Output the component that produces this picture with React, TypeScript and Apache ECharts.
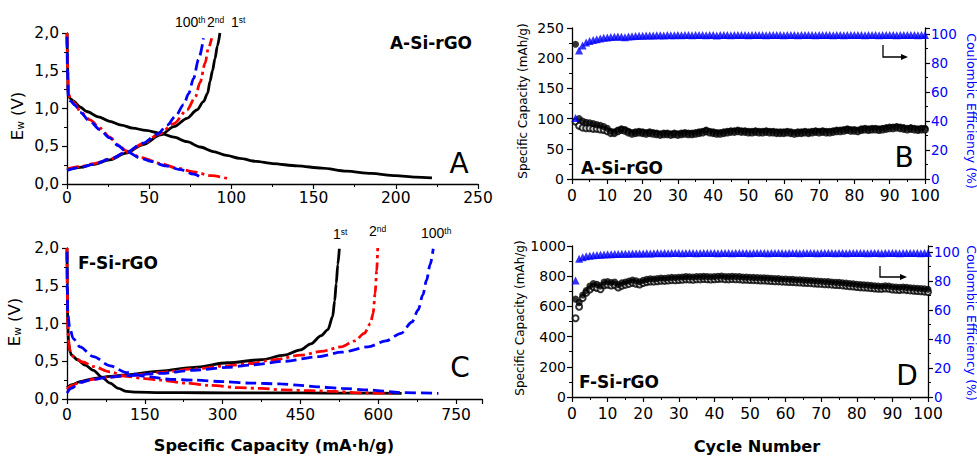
import React, { useEffect, useRef } from 'react';
import * as echarts from 'echarts';

// ---------- Panel A (A-Si-rGO), E vs capacity ----------
const a1Discharge = [[0,2.0],[0.3,1.6],[0.8,1.18],[2,1.13],[3.8,1.1],[8,1.02],[12,0.96],[19,0.89],[26,0.83],[33,0.78],[40,0.74],[48,0.71],[57,0.67],[65,0.62],[73,0.56],[81,0.49],[89,0.43],[97,0.38],[105,0.34],[115,0.3],[125,0.27],[140,0.24],[155,0.21],[170,0.17],[185,0.14],[200,0.11],[212,0.09],[222,0.08]];
const a1Charge = [[0,0.19],[8,0.22],[16,0.26],[26,0.32],[36,0.41],[46,0.52],[57,0.65],[65,0.76],[73,0.87],[79,0.98],[83,1.09],[85.5,1.2],[87,1.36],[88.5,1.5],[90,1.66],[91.5,1.83],[93,2.0]];
const a2Discharge = [[0,2.0],[0.3,1.6],[0.8,1.2],[2,1.14],[5,1.06],[8,0.96],[14,0.85],[20,0.74],[26,0.62],[31,0.52],[36,0.44],[45,0.35],[57,0.27],[67,0.21],[77,0.16],[88,0.11],[98,0.07]];
const a2Charge = [[0,0.2],[8,0.23],[16,0.27],[26,0.33],[36,0.42],[46,0.53],[56,0.66],[65,0.8],[73,0.98],[78,1.15],[81,1.35],[84,1.6],[86,1.8],[88,1.93]];
const a100Discharge = [[0,1.95],[0.3,1.5],[0.8,1.15],[2,1.1],[5,1.04],[8,0.95],[14,0.83],[20,0.72],[26,0.61],[31,0.51],[36,0.43],[45,0.34],[51,0.3],[60,0.24],[69,0.19],[77,0.13],[83,0.07]];
const a100Charge = [[0,0.18],[8,0.22],[16,0.26],[26,0.33],[36,0.42],[46,0.54],[55,0.66],[61,0.78],[66,0.9],[71,1.05],[74,1.2],[77,1.4],[80,1.65],[83,1.93]];

// ---------- Panel C (F-Si-rGO), E vs capacity ----------
const c1Discharge = [[0,2.0],[0.5,1.5],[1.5,1.0],[3,0.75],[6,0.62],[9,0.58],[20,0.52],[35,0.45],[51,0.38],[67,0.29],[83,0.21],[99,0.14],[115,0.1],[135,0.09],[180,0.085],[260,0.083],[350,0.08],[450,0.08],[550,0.078],[645,0.075]];
const c1Charge = [[0,0.15],[10,0.19],[25,0.23],[51,0.27],[83,0.3],[115,0.32],[180,0.37],[245,0.42],[310,0.48],[374,0.52],[419,0.58],[450,0.65],[470,0.73],[490,0.84],[503,0.92],[512,1.09],[516,1.3],[519,1.53],[522,1.78],[525,1.99]];
const c2Discharge = [[0,2.0],[0.5,1.4],[2,0.85],[5,0.65],[12,0.56],[30,0.49],[51,0.43],[83,0.36],[115,0.3],[150,0.27],[180,0.25],[230,0.21],[277,0.18],[330,0.15],[374,0.14],[419,0.12],[470,0.11],[515,0.1],[570,0.08],[625,0.075]];
const c2Charge = [[0,0.13],[10,0.18],[25,0.22],[51,0.26],[83,0.29],[115,0.31],[180,0.35],[245,0.4],[310,0.44],[354,0.47],[400,0.52],[451,0.58],[490,0.63],[528,0.69],[555,0.77],[573,0.87],[585,1.0],[590,1.13],[594,1.4],[597,1.7],[599,2.0]];
const c100Discharge = [[0,1.95],[0.5,1.5],[1.5,1.13],[5,0.95],[12,0.8],[25,0.69],[51,0.56],[83,0.44],[115,0.35],[150,0.3],[200,0.26],[245,0.25],[300,0.23],[354,0.21],[412,0.2],[450,0.18],[483,0.16],[530,0.14],[580,0.12],[644,0.085],[716,0.075]];
const c100Charge = [[0,0.08],[8,0.14],[25,0.22],[51,0.26],[83,0.29],[115,0.31],[180,0.34],[245,0.38],[310,0.42],[354,0.45],[420,0.5],[483,0.56],[530,0.62],[580,0.69],[615,0.77],[644,0.87],[665,1.02],[677,1.18],[686,1.38],[693,1.57],[700,1.78],[706,1.99]];

// ---------- Panel B (A-Si-rGO), cycling ----------
const bDischarge = [223,100,96,94,93,92,90,89,87,84,
  79,78,81,83,82,79,77,78,79,78,
  77,78,77,76,75,76,76,75,76,75,
  76,77,76,76,77,78,79,81,79,78,
  77,77,78,79,80,80,81,80,80,79,
  79,80,79,79,80,79,79,78,78,78,
  79,78,77,78,78,79,78,79,80,79,
  80,79,79,80,81,81,82,83,82,82,
  81,83,84,83,84,84,83,84,85,86,
  86,87,86,85,84,85,84,83,84,84];
const bCharge = [95,88,85,84,84,83,83,82,81,79,
  76,76,79,81,80,77,75,76,77,76,
  75,76,75,74,73,74,74,73,74,73,
  74,75,74,74,75,76,77,79,77,76,
  75,75,76,77,78,78,79,78,78,77,
  77,78,77,77,78,77,77,76,76,76,
  77,76,75,76,76,77,76,77,78,77,
  78,77,77,78,79,79,80,81,80,80,
  79,81,82,81,82,82,81,82,83,84,
  84,85,84,83,82,83,82,81,82,82];
const bEfficiency = [42,88.5,92,94,95,95.8,96.3,96.8,97.2,97.5,
  97.8,98.0,98.1,97.9,97.7,98.2,98.4,98.5,98.6,98.7,
  98.8,98.9,98.8,99.0,99.0,98.9,99.1,99.0,99.0,99.1,
  99.0,99.1,99.2,99.0,99.1,99.2,99.1,99.0,99.1,99.2,
  98.9,99.1,99.2,99.1,99.0,99.2,99.1,99.1,99.2,99.0,
  99.1,99.2,99.1,99.1,99.0,99.2,99.1,99.2,99.1,99.0,
  99.2,99.1,99.1,99.0,99.2,99.1,99.2,99.1,99.0,99.1,
  99.2,99.1,99.2,99.0,99.1,99.2,99.0,99.1,99.2,99.1,
  99.1,99.2,99.0,99.1,99.2,99.1,99.0,99.2,99.1,99.1,
  99.2,99.0,99.1,99.2,99.1,99.1,99.2,99.0,99.1,99.1];

// ---------- Panel D (F-Si-rGO), cycling ----------
const dDischarge = [648,625,676,705,735,752,746,736,762,764,
  758,761,744,756,762,768,775,769,763,773,
  779,783,782,785,788,787,790,792,791,793,
  795,797,796,795,798,797,799,798,796,798,
  800,801,798,797,799,798,797,795,794,793,
  792,791,790,789,788,786,785,784,782,781,
  780,779,777,776,774,773,772,770,768,767,
  765,764,762,760,759,757,754,752,750,747,
  744,743,742,739,737,735,734,737,735,730,
  728,727,729,726,724,722,720,718,716,713];
const dCharge = [522,598,655,690,712,728,722,714,740,743,
  738,741,725,737,743,749,756,750,745,755,
  761,765,764,767,770,769,772,774,773,775,
  777,779,778,777,780,779,781,780,778,780,
  782,783,780,779,781,780,779,777,776,775,
  774,773,772,771,770,768,767,766,764,763,
  762,761,759,758,756,755,754,752,750,749,
  747,746,744,742,741,739,736,734,732,729,
  726,725,724,721,719,717,716,719,717,712,
  710,709,711,708,706,704,702,700,698,695];
const dEfficiency = [80.3,95.3,96.3,96.9,97.3,97.6,97.8,98.0,98.1,98.3,
  98.4,98.5,98.5,98.6,98.7,98.7,98.8,98.8,98.9,98.9,
  99.0,98.9,99.0,99.1,99.0,99.1,99.0,99.1,99.2,99.1,
  99.0,99.1,99.2,99.1,99.0,99.1,99.2,99.1,99.1,99.2,
  99.0,99.1,99.2,99.1,99.0,99.2,99.1,99.1,99.2,99.0,
  99.1,99.2,99.1,99.1,99.0,99.2,99.1,99.2,99.1,99.0,
  99.2,99.1,99.1,99.0,99.2,99.1,99.2,99.1,99.0,99.1,
  99.2,99.1,99.2,99.0,99.1,99.2,99.0,99.1,99.2,99.1,
  99.1,99.2,99.0,99.1,99.2,99.1,99.0,99.2,99.1,99.1,
  99.2,99.0,99.1,99.2,99.1,99.1,99.2,99.0,99.1,99.1];

const FONT = 'DejaVu Sans';
const BLACK = '#000000';
const RED = '#ff0000';
const BLUE = '#0000ff';

function axisBase(fontSize: number, labelColor = BLACK, margin = 7, extra: any = {}) {
  return {
    axisLine: { show: true, onZero: false, lineStyle: { color: BLACK, width: 1.3 } },
    axisTick: { show: true, inside: false, length: 5, lineStyle: { color: BLACK, width: 1.2 } },
    minorTick: { show: true, splitNumber: 2, length: 3, lineStyle: { color: BLACK, width: 1 } },
    splitLine: { show: false },
    axisLabel: { color: labelColor, fontFamily: FONT, fontSize, margin, ...extra },
  };
}

const commaFmt = (v: number) => v.toFixed(1).replace('.', ',');
const plainFmt = (v: number) => String(Math.round(v));

function curve(data: number[][], color: string, type: any, xi: number, yi: number) {
  return {
    type: 'line', xAxisIndex: xi, yAxisIndex: yi, data, showSymbol: false, symbol: 'none',
    smooth: 0.3, smoothMonotone: 'x', silent: true,
    lineStyle: { color, width: 2.8, type, cap: 'butt' },
  };
}

const DASHDOT = [12, 4, 3, 4];
const DASH = [11, 5];

function cyc(values: number[]) {
  return values.map((v, i) => [i + 1, v]);
}

function ordinal(x: number, y: number, num: string, suf: string) {
  return {
    type: 'text', x, y,
    style: {
      text: `{n|${num}}{s|${suf}}`,
      rich: {
        n: { fontSize: 14, fontFamily: 'Liberation Sans', fill: BLACK },
        s: { fontSize: 8.5, fontFamily: 'Liberation Sans', fill: BLACK, verticalAlign: 'top' },
      },
      align: 'left', verticalAlign: 'middle',
    },
  };
}

function label(x: number, y: number, text: string, size: number, weight = 'normal', color = BLACK, rotation = 0) {
  return {
    type: 'text', x, y, rotation,
    style: { text, fontSize: size, fontWeight: weight, fontFamily: FONT, fill: color, align: 'center', verticalAlign: 'middle' },
  };
}

function ewLabel(x: number, y: number) {
  return {
    type: 'text', x, y, rotation: Math.PI / 2,
    style: {
      text: '{e|E}{w|w}{e| (V)}',
      rich: {
        e: { fontSize: 16.5, fontFamily: FONT, fill: BLACK },
        w: { fontSize: 10.5, fontFamily: FONT, fill: BLACK, verticalAlign: 'bottom' },
      },
      align: 'center', verticalAlign: 'middle',
    },
  };
}

function arrow(x: number, y0: number, y1: number, x1: number) {
  return [
    { type: 'polyline', shape: { points: [[x, y0], [x, y1], [x1 - 5, y1]] }, style: { stroke: BLACK, lineWidth: 1.3, fill: null } },
    { type: 'polygon', shape: { points: [[x1 - 7, y1 - 3], [x1, y1], [x1 - 7, y1 + 3]] }, style: { fill: BLACK } },
  ];
}

export default function App() {
  const ref = useRef<HTMLDivElement>(null);
  useEffect(() => {
    if (!ref.current) return;
    const chart = echarts.init(ref.current, null, { renderer: 'svg' });
    const option: any = {
      animation: false,
      backgroundColor: '#ffffff',
      grid: [
        { left: 67, top: 33, width: 411, height: 151 },   // A
        { left: 67, top: 248, width: 415, height: 151 },  // C
        { left: 572, top: 28, width: 353, height: 151 },  // B
        { left: 572, top: 246, width: 356, height: 151 }, // D
      ],
      xAxis: [
        { type: 'value', gridIndex: 0, min: 0, max: 250, interval: 50, ...axisBase(15.5, BLACK, 6) },
        { type: 'value', gridIndex: 1, min: 0, max: 800, interval: 150, ...axisBase(15.5, BLACK, 8, { showMaxLabel: false }) },
        { type: 'value', gridIndex: 2, min: 0, max: 100, interval: 10, ...axisBase(15.5, BLACK, 9) },
        { type: 'value', gridIndex: 3, min: 0, max: 100, interval: 10, ...axisBase(15.5, BLACK, 9) },
      ],
      yAxis: [
        { type: 'value', gridIndex: 0, min: 0, max: 2, interval: 0.5, ...axisBase(15.5, BLACK, 8, { formatter: commaFmt }) },
        { type: 'value', gridIndex: 1, min: 0, max: 2, interval: 0.5, ...axisBase(15.5, BLACK, 8, { formatter: commaFmt }) },
        { type: 'value', gridIndex: 2, position: 'left', min: 0, max: 250, interval: 50, ...axisBase(14, BLACK, 8) },
        { type: 'value', gridIndex: 2, position: 'right', min: 0, max: 104, interval: 20, ...axisBase(13.5, BLUE, 6, { showMaxLabel: false }) },
        { type: 'value', gridIndex: 3, position: 'left', min: 0, max: 1000, interval: 200, ...axisBase(14, BLACK, 6, { formatter: plainFmt }) },
        { type: 'value', gridIndex: 3, position: 'right', min: 0, max: 104, interval: 20, ...axisBase(13.5, BLUE, 6, { showMaxLabel: false }) },
      ],
      series: [
        curve(a1Discharge, BLACK, 'solid', 0, 0),
        curve(a1Charge, BLACK, 'solid', 0, 0),
        curve(a2Discharge, RED, DASHDOT, 0, 0),
        curve(a2Charge, RED, DASHDOT, 0, 0),
        curve(a100Discharge, BLUE, DASH, 0, 0),
        curve(a100Charge, BLUE, DASH, 0, 0),
        curve(c1Discharge, BLACK, 'solid', 1, 1),
        curve(c1Charge, BLACK, 'solid', 1, 1),
        curve(c2Discharge, RED, DASHDOT, 1, 1),
        curve(c2Charge, RED, DASHDOT, 1, 1),
        curve(c100Discharge, BLUE, DASH, 1, 1),
        curve(c100Charge, BLUE, DASH, 1, 1),
        { type: 'scatter', xAxisIndex: 2, yAxisIndex: 2, data: cyc(bCharge), symbol: 'emptyCircle', symbolSize: 6,
          itemStyle: { color: BLACK, borderColor: BLACK, borderWidth: 1 }, silent: true },
        { type: 'scatter', xAxisIndex: 2, yAxisIndex: 2, data: cyc(bDischarge), symbol: 'circle', symbolSize: 7,
          itemStyle: { color: BLACK }, silent: true },
        { type: 'scatter', xAxisIndex: 2, yAxisIndex: 3, data: cyc(bEfficiency), symbol: 'triangle', symbolSize: 8,
          itemStyle: { color: BLUE }, silent: true },
        { type: 'scatter', xAxisIndex: 3, yAxisIndex: 4, data: cyc(dCharge), symbol: 'emptyCircle', symbolSize: 6,
          itemStyle: { color: BLACK, borderColor: BLACK, borderWidth: 1 }, silent: true },
        { type: 'scatter', xAxisIndex: 3, yAxisIndex: 4, data: cyc(dDischarge), symbol: 'circle', symbolSize: 7,
          itemStyle: { color: BLACK }, silent: true },
        { type: 'scatter', xAxisIndex: 3, yAxisIndex: 5, data: cyc(dEfficiency), symbol: 'triangle', symbolSize: 8,
          itemStyle: { color: BLUE }, silent: true },
      ],
      graphic: [
        // Panel A
        label(431, 43, 'A-Si-rGO', 17, 'bold'),
        label(459, 163, 'A', 28),
        ordinal(175, 22, '100', 'th'),
        ordinal(207, 22, '2', 'nd'),
        ordinal(231, 22, '1', 'st'),
        ewLabel(17, 116),
        // Panel C
        label(118, 263, 'F-Si-rGO', 17, 'bold'),
        label(460, 367, 'C', 28),
        ordinal(333, 234, '1', 'st'),
        ordinal(369, 231, '2', 'nd'),
        ordinal(421, 233, '100', 'th'),
        ewLabel(14, 322),
        label(274, 445, 'Specific Capacity (mA·h/g)', 16.2, 'bold'),
        // Panel B
        label(622, 168, 'A-Si-rGO', 17, 'bold'),
        label(904, 157, 'B', 28),
        label(523, 101, 'Specific Capacity (mAh/g)', 12, 'normal', BLACK, Math.PI / 2),
        label(971, 111, 'Coulombic Efficiency (%)', 12.5, 'normal', BLUE, -Math.PI / 2),
        ...arrow(883, 45, 57, 908),
        // Panel D
        label(619, 382, 'F-Si-rGO', 17, 'bold'),
        label(907, 375, 'D', 28),
        label(520, 318, 'Specific Capacity (mAh/g)', 12, 'normal', BLACK, Math.PI / 2),
        label(971, 323, 'Coulombic Efficiency (%)', 12.5, 'normal', BLUE, -Math.PI / 2),
        ...arrow(880, 266, 277, 907),
        label(757, 446, 'Cycle Number', 16.2, 'bold'),
      ],
    };
    chart.setOption(option);
    return () => chart.dispose();
  }, []);
  return (
    <div ref={ref} style={{ position: 'fixed', left: 0, top: 0, width: 977, height: 457, background: '#fff' }} />
  );
}
